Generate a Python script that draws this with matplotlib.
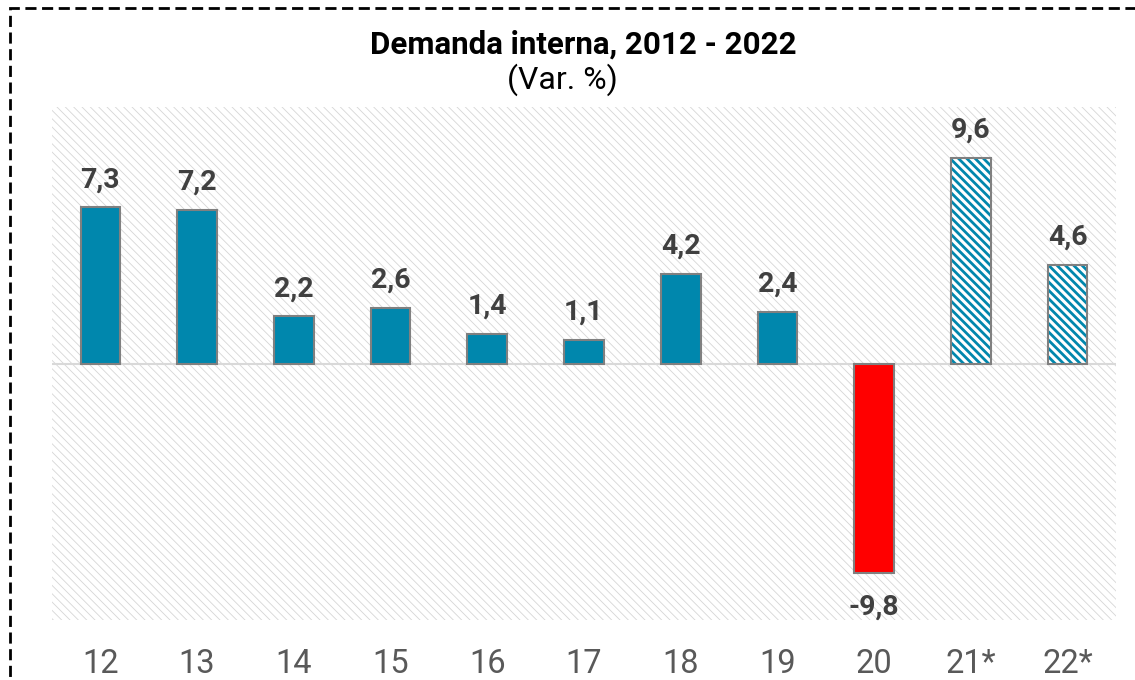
import numpy as np
import matplotlib
matplotlib.use("Agg")
import matplotlib.pyplot as plt
from matplotlib.patches import Rectangle

years = ["12", "13", "14", "15", "16", "17", "18", "19", "20", "21*", "22*"]
values = [7.3, 7.2, 2.2, 2.6, 1.4, 1.1, 4.2, 2.4, -9.8, 9.6, 4.6]
labels = ["7,3", "7,2", "2,2", "2,6", "1,4", "1,1", "4,2", "2,4", "-9,8", "9,6", "4,6"]
projected = [False] * 9 + [True, True]

TEAL, RED, EDGE = "#0087ad", "#ff0000", "#808080"

plt.rcParams["font.family"] = ["Roboto", "DejaVu Sans"]


def hatch_lw(patch, lw):
    if hasattr(patch, "set_hatch_linewidth"):
        patch.set_hatch_linewidth(lw)


fig = plt.figure(figsize=(11.35, 6.8), dpi=100)
ax = fig.add_axes([52 / 1135, 1 - 620 / 680, (1116 - 52) / 1135, (620 - 107) / 680])

# hatched background
with plt.rc_context({"hatch.linewidth": 0.6}):
    bg = Rectangle((0, 0), 1, 1, transform=ax.transAxes, facecolor="white",
                   edgecolor="#d6d6d6", hatch="\\\\\\\\", linewidth=0, zorder=0)
    hatch_lw(bg, 0.6)
    ax.add_patch(bg)

x = np.arange(len(years))
w = 0.41
for xi, v, proj in zip(x, values, projected):
    if proj:
        with plt.rc_context({"hatch.linewidth": 2.0}):
            b = ax.bar(xi, v, w, color="white", edgecolor=TEAL, hatch="\\\\\\\\", linewidth=0, zorder=2)
            for p in b:
                hatch_lw(p, 2.0)
        ax.bar(xi, v, w, fill=False, edgecolor=EDGE, linewidth=1.5, zorder=3)
    else:
        ax.bar(xi, v, w, color=RED if v < 0 else TEAL, edgecolor=EDGE, linewidth=1.5, zorder=2)

ax.axhline(0, color="#d9d9d9", lw=1.5, zorder=1)

for xi, v, lab in zip(x, values, labels):
    off = 1.3 if v >= 0 else -1.6
    ax.text(xi, v + off, lab, ha="center", va="center", fontsize=20.5, fontweight="bold",
            color="#404040", zorder=4)

ax.set_xlim(-0.5, len(years) - 0.5)
ax.set_ylim(-12, 12)
ax.set_yticks([])
ax.set_xticks(x)
ax.set_xticklabels(years, fontsize=23.5, color="#595959")
ax.tick_params(axis="x", length=0, pad=20)
for s in ax.spines.values():
    s.set_visible(False)

fig.text(583 / 1135, 1 - 45 / 680, "Demanda interna, 2012 - 2022", ha="center", va="center",
         fontsize=22.5, fontweight="bold", color="black")
fig.text(562 / 1135, 1 - 80 / 680, "(Var. %)", ha="center", va="center",
         fontsize=23, color="black")

# dashed frame
fig.patches.append(Rectangle((10 / 1135, -0.05), 1.1, 1 - 8 / 680 + 0.05, transform=fig.transFigure,
                             fill=False, edgecolor="black", linestyle=(0, (4, 2)), linewidth=2,
                             clip_on=False))

fig.savefig("out.png", dpi=100)
